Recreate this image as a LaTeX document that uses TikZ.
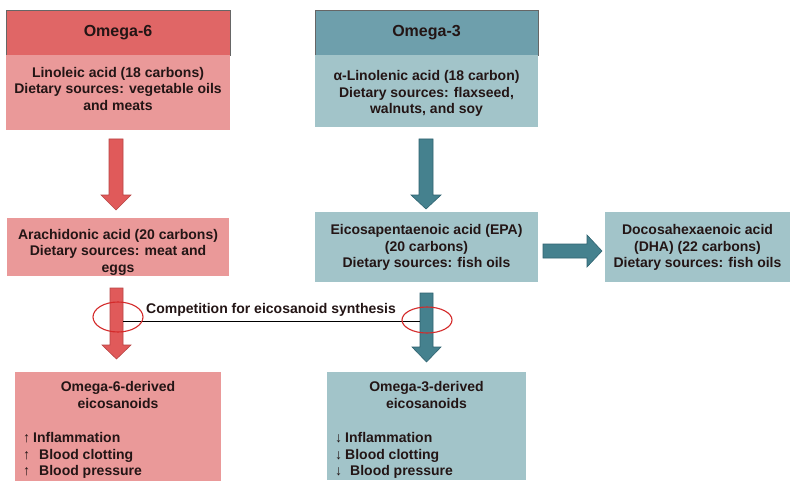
\documentclass[tikz,border=0pt]{standalone}
\usepackage{fontspec}
\setmainfont{Liberation Sans}
\definecolor{sixdark}{HTML}{E06666}
\definecolor{sixlight}{HTML}{EA9999}
\definecolor{sixarrow}{HTML}{E05A5A}
\definecolor{sixedge}{HTML}{B84545}
\definecolor{threedark}{HTML}{6E9FAC}
\definecolor{threelight}{HTML}{A2C4C9}
\definecolor{threearrow}{HTML}{45818E}
\definecolor{threeedge}{HTML}{2F6370}
\definecolor{textc}{HTML}{231515}
\definecolor{ringc}{HTML}{D42A2A}
\begin{document}
\begin{tikzpicture}[x=1pt,y=-1pt,
  boxsix/.style={fill=sixlight, inner sep=0pt, outer sep=0pt},
  hdrsix/.style={fill=sixdark, draw=black!60, line width=0.7pt, inner sep=0pt, outer sep=0pt},
  boxthree/.style={fill=threelight, inner sep=0pt, outer sep=0pt},
  hdrthree/.style={fill=threedark, draw=black!60, line width=0.7pt, inner sep=0pt, outer sep=0pt},
  txt/.style={font=\bfseries\fontsize{14}{16.5}\selectfont, text=textc, align=center, inner sep=0pt},
  hdrtxt/.style={font=\bfseries\fontsize{16}{18}\selectfont, text=textc, align=center, inner sep=0pt},
  arrsix/.style={fill=sixarrow, draw=sixedge, line width=0.6pt},
  arrthree/.style={fill=threearrow, draw=threeedge, line width=0.6pt},
  ring/.style={draw=ringc, line width=1.1pt},
]
\useasboundingbox (0,0) rectangle (792,484);
\fill[white] (0,0) rectangle (792,484);

% boxes
\node[hdrsix, minimum width=224pt, minimum height=45pt] (h6) at (118,32.5) {};
\node[boxsix, minimum width=224pt, minimum height=75pt] (lin) at (118,92.5) {};
\node[hdrthree, minimum width=223pt, minimum height=45pt] (h3) at (426.5,32.5) {};
\node[boxthree, minimum width=223pt, minimum height=72pt] (ala) at (426.5,91) {};
\node[boxsix, minimum width=222pt, minimum height=58pt] (ara) at (118,247) {};
\node[boxthree, minimum width=223pt, minimum height=70pt] (epa) at (426.5,247) {};
\node[boxthree, minimum width=185pt, minimum height=70pt] (dha) at (697.5,247) {};
\node[boxsix, minimum width=206pt, minimum height=109pt] (d6) at (118,426.5) {};
\node[boxthree, minimum width=199pt, minimum height=108pt] (d3) at (426.5,426) {};

% texts
\node[hdrtxt] (h6t) at (118,33) {Omega-6};
\node[hdrtxt] (h3t) at (426.5,33) {Omega-3};
\node[txt] (lint) at (118,88.5) {Linoleic acid (18 carbons)\\Dietary sources: vegetable oils\\and meats};
\node[txt] (alat) at (426.5,93.5) {α-Linolenic acid (18 carbon)\\Dietary sources: flaxseed,\\walnuts, and soy};
\node[txt] (arat) at (118,252) {Arachidonic acid (20 carbons)\\Dietary sources: meat and\\eggs};
\node[txt] (epat) at (426.5,247.5) {Eicosapentaenoic acid (EPA)\\(20 carbons)\\Dietary sources: fish oils};
\node[txt] (dhat) at (697.5,247.5) {Docosahexaenoic acid\\(DHA) (22 carbons)\\Dietary sources: fish oils};
\node[txt] (d6t) at (118,395) {Omega-6-derived\\eicosanoids};
\node[txt] (d3t) at (426.5,395) {Omega-3-derived\\eicosanoids};

% lists
\node[txt, anchor=base west, font=\fontsize{14}{16.5}\selectfont] (u1) at (23,442) {↑};
\node[txt, anchor=base west, font=\fontsize{14}{16.5}\selectfont] (u2) at (23,459) {↑};
\node[txt, anchor=base west, font=\fontsize{14}{16.5}\selectfont] (u3) at (23,475) {↑};
\node[txt, anchor=base west] (i6) at (33,442) {Inflammation};
\node[txt, anchor=base west] (c6) at (39,459) {Blood clotting};
\node[txt, anchor=base west] (p6) at (39,475) {Blood pressure};
\node[txt, anchor=base west, font=\fontsize{14}{16.5}\selectfont] (w1) at (335,442) {↓};
\node[txt, anchor=base west, font=\fontsize{14}{16.5}\selectfont] (w2) at (335,459) {↓};
\node[txt, anchor=base west, font=\fontsize{14}{16.5}\selectfont] (w3) at (335,475) {↓};
\node[txt, anchor=base west] (i3) at (345,442) {Inflammation};
\node[txt, anchor=base west] (c3) at (345,459) {Blood clotting};
\node[txt, anchor=base west] (p3) at (350,475) {Blood pressure};

% block arrows
\draw[arrsix] (109,139) -- (123,139) -- (123,195) -- (131,195) -- (116,210) -- (101,195) -- (109,195) -- cycle;
\draw[arrthree] (419,139) -- (433,139) -- (433,195) -- (441,195) -- (426,209) -- (411,195) -- (419,195) -- cycle;
\draw[arrsix] (110,288) -- (123,288) -- (123,345) -- (131,345) -- (116.5,359) -- (102,345) -- (110,345) -- cycle;
\draw[arrthree] (420,293) -- (433,293) -- (433,347) -- (441,347) -- (426.5,362) -- (412,347) -- (420,347) -- cycle;
\draw[arrthree] (543,244) -- (587,244) -- (587,235) -- (602,251) -- (587,267) -- (587,258) -- (543,258) -- cycle;

% competition
\coordinate (cl) at (123,321);
\coordinate (cr) at (420,321);
\draw[black, line width=0.9pt] (cl) -- (cr);
\node[txt] (comp) at (271,310) {Competition for eicosanoid synthesis};
\draw[ring] (118,317) ellipse [x radius=25, y radius=15];
\draw[ring] (427,320) ellipse [x radius=25, y radius=13];
\end{tikzpicture}
\end{document}
